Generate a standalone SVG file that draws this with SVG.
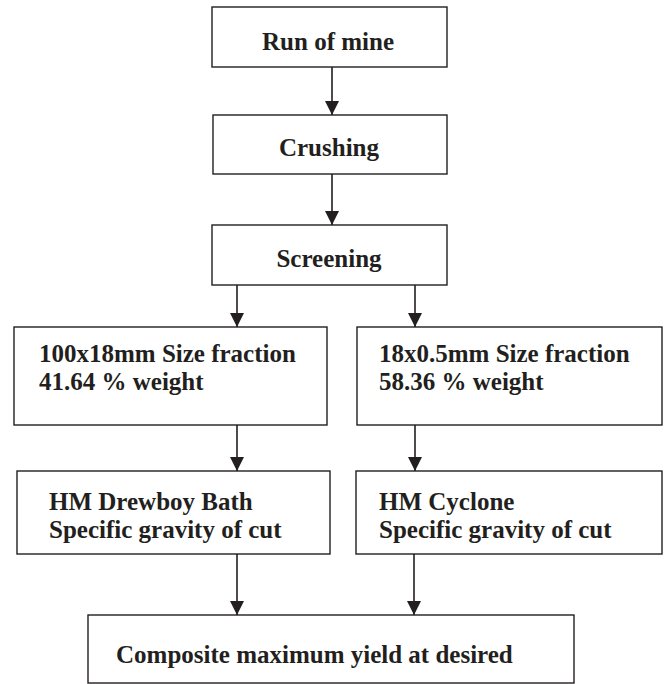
<svg xmlns="http://www.w3.org/2000/svg" width="672" height="684" viewBox="0 0 672 684">
<style>
.box{fill:#fff;stroke:#231f20;stroke-width:1.4}
text{font-family:'Liberation Serif','Times New Roman',Times,serif;font-weight:700;font-size:25px;fill:#231f20}
.c{text-anchor:middle}
.ln{stroke:#231f20;stroke-width:1.6;fill:none}
</style>
<defs>
<marker id="ah" markerWidth="14" markerHeight="14" viewBox="0 0 14 14" refX="14" refY="7" orient="auto" markerUnits="userSpaceOnUse">
<path d="M0,0 L14,7 L0,14 Z" fill="#231f20"/>
</marker>
</defs>
<rect width="672" height="684" fill="#fff"/>
<g id="connectors">
<line class="ln" x1="332" y1="67" x2="332" y2="115" marker-end="url(#ah)"/>
<line class="ln" x1="332" y1="174" x2="332" y2="225" marker-end="url(#ah)"/>
<line class="ln" x1="237" y1="285" x2="237" y2="327" marker-end="url(#ah)"/>
<line class="ln" x1="415" y1="285" x2="415" y2="327" marker-end="url(#ah)"/>
<line class="ln" x1="237" y1="425" x2="237" y2="471" marker-end="url(#ah)"/>
<line class="ln" x1="415" y1="425" x2="415" y2="471" marker-end="url(#ah)"/>
<line class="ln" x1="237" y1="554" x2="237" y2="615" marker-end="url(#ah)"/>
<line class="ln" x1="414" y1="554" x2="414" y2="615" marker-end="url(#ah)"/>
</g>
<g id="run-of-mine">
<rect class="box" x="212" y="7" width="235" height="60"/>
<text class="c" x="328" y="50">Run of mine</text>
</g>
<g id="crushing">
<rect class="box" x="213" y="115" width="234" height="59"/>
<text class="c" x="329" y="156">Crushing</text>
</g>
<g id="screening">
<rect class="box" x="212" y="225" width="235" height="60"/>
<text class="c" x="329" y="267">Screening</text>
</g>
<g id="fraction-coarse">
<rect class="box" x="14" y="327" width="313" height="98"/>
<text x="39" y="362">100x18mm Size fraction</text>
<text x="39" y="390">41.64 % weight</text>
</g>
<g id="fraction-fine">
<rect class="box" x="357" y="327" width="305" height="98"/>
<text x="379" y="362">18x0.5mm Size fraction</text>
<text x="379" y="390">58.36 % weight</text>
</g>
<g id="drewboy-bath">
<rect class="box" x="17" y="471" width="313" height="83"/>
<text x="49" y="510">HM Drewboy Bath</text>
<text x="49" y="538">Specific gravity of cut</text>
</g>
<g id="cyclone">
<rect class="box" x="356" y="471" width="306" height="83"/>
<text x="379" y="510">HM Cyclone</text>
<text x="379" y="538">Specific gravity of cut</text>
</g>
<g id="composite">
<rect class="box" x="88" y="615" width="486" height="68"/>
<text x="116" y="663">Composite maximum yield at desired</text>
</g>
</svg>
